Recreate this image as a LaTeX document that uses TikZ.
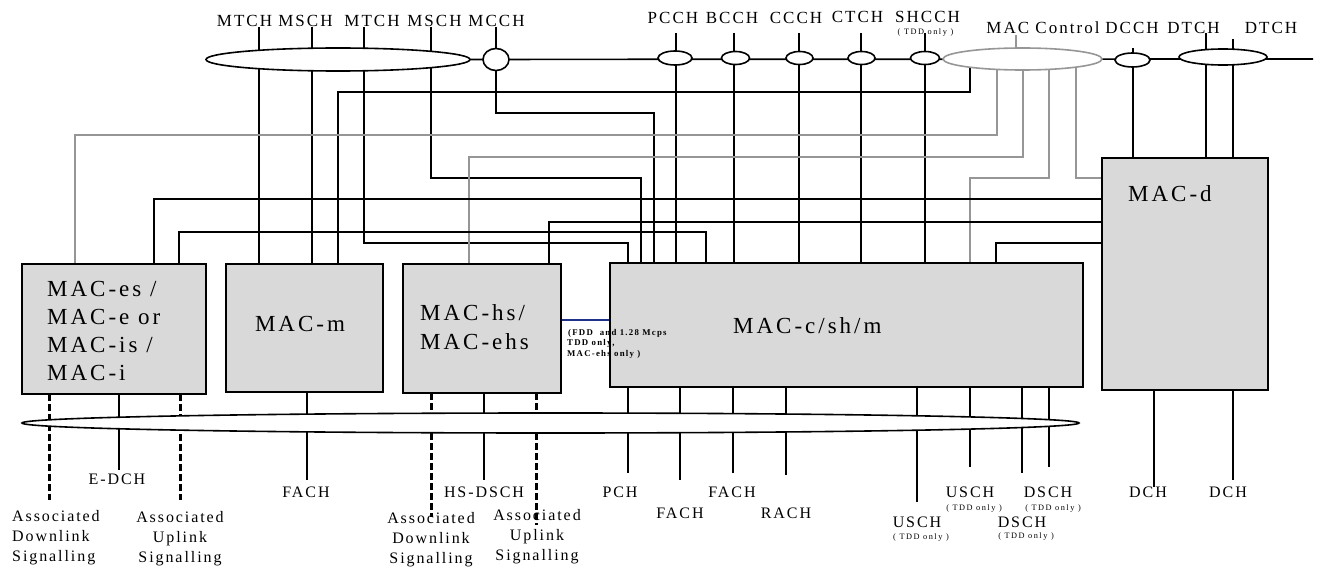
\documentclass[tikz,border=0pt]{standalone}
\usepackage{fontspec}
\setmainfont{Liberation Serif}
\newfontfamily\boxf[LetterSpace=13]{Liberation Serif}
\newfontfamily\chf[LetterSpace=12]{Liberation Serif}
\newfontfamily\blf[LetterSpace=12]{Liberation Serif}
\newfontfamily\smf[LetterSpace=18]{Liberation Serif}
\newfontfamily\bsmf[LetterSpace=14]{Liberation Serif}
\usetikzlibrary{shapes.geometric}
\pgfdeclarelayer{bg}
\pgfsetlayers{bg,main}
\definecolor{boxgray}{RGB}{217,217,217}
\definecolor{linegray}{RGB}{150,150,150}
\definecolor{navyline}{RGB}{30,50,140}
\begin{document}
\begin{tikzpicture}[x=1pt,y=-1pt,
  box/.style={draw=black, line width=1.8pt, fill=boxgray, inner sep=0pt, outer sep=0pt, anchor=north west},
  ell/.style={ellipse, draw=black, fill=white, line width=1.6pt, inner sep=0pt, outer sep=0pt},
  gell/.style={ellipse, draw=linegray, fill=white, line width=1.6pt, inner sep=0pt, outer sep=0pt},
  ln/.style={draw=black, line width=1.7pt},
  gln/.style={draw=linegray, line width=1.4pt},
  dln/.style={draw=black, line width=3pt, dash pattern=on 7pt off 3pt},
  bln/.style={draw=navyline, line width=1.3pt},
  boxlab/.style={font=\boxf\fontsize{23}{26}\selectfont, inner sep=0pt, anchor=base west},
  chlab/.style={font=\chf\fontsize{17}{18}\selectfont, inner sep=0pt, anchor=base},
  botlab/.style={font=\blf\fontsize{16}{18}\selectfont, inner sep=0pt, anchor=base},
  tdd/.style={font=\smf\fontsize{8.3}{9}\selectfont, inner sep=0pt, anchor=base},
  note/.style={font=\bsmf\bfseries\fontsize{8.8}{11}\selectfont, inner sep=0pt, anchor=base west}
]
\useasboundingbox (0,0) rectangle (1318,567);

% ---------- boxes ----------
\node[box, minimum width=184pt, minimum height=130pt] (maces) at (22,264) {};
\node[box, minimum width=157pt, minimum height=128pt] (macm) at (226,264) {};
\node[box, minimum width=158pt, minimum height=129pt] (machs) at (403,264) {};
\node[box, minimum width=473pt, minimum height=124pt] (macc) at (610,263) {};
\node[box, minimum width=166pt, minimum height=232pt] (macd) at (1102,158) {};

% box labels
\node[boxlab] (tEs1) at (47,296) {MAC-es /};
\node[boxlab] (tEs2) at (47,324) {MAC-e or};
\node[boxlab] (tEs3) at (47,352) {MAC-is /};
\node[boxlab] (tEs4) at (47,380) {MAC-i};
\node[boxlab, anchor=base] (tM) at (300,331) {MAC-m};
\node[boxlab] (tHs1) at (420,320) {MAC-hs/};
\node[boxlab] (tHs2) at (420,349) {MAC-ehs};
\node[boxlab] (tC) at (733,333) {MAC-c/sh/m};
\node[boxlab] (tD) at (1128,201) {MAC-d};

% note
\node[note] (n1) at (568,335) {(FDD\ \ and 1.28 Mcps};
\node[note] (n2) at (567,345.7) {TDD only,};
\node[note] (n3) at (567,356.7) {MAC-ehs only )};

% ---------- top ellipses ----------
\node[ell, minimum width=264pt, minimum height=23pt] (bigE) at (338,59.5) {};
\node[ell, minimum width=26pt, minimum height=22pt] (mcchE) at (496,59.5) {};
\node[ell, minimum width=34pt, minimum height=14pt] (pcchE) at (675,58) {};
\node[ell, minimum width=28pt, minimum height=13pt] (bcchE) at (735.5,58) {};
\node[ell, minimum width=27pt, minimum height=13pt] (ccchE) at (799.5,58) {};
\node[ell, minimum width=27pt, minimum height=13pt] (ctchE) at (861.5,58) {};
\node[ell, minimum width=29pt, minimum height=13pt] (shcchE) at (925,58) {};
\node[gell, minimum width=159pt, minimum height=22pt] (ctrlE) at (1022.5,59) {};
\node[ell, minimum width=35pt, minimum height=14pt] (dcchE) at (1132.5,60) {};
\node[ell, minimum width=88pt, minimum height=16pt] (dtchE) at (1223,57) {};

% bottom ellipse
\node[ell, minimum width=1057pt, minimum height=20pt] (botE) at (550.5,423) {};

% ---------- top labels ----------
\node[chlab] (lMTCHa) at (244.5,27) {MTCH};
\node[chlab] (lMSCHa) at (305.5,27) {MSCH};
\node[chlab] (lMTCHb) at (372,27) {MTCH};
\node[chlab] (lMSCHb) at (434.5,27) {MSCH};
\node[chlab] (lMCCH) at (496.5,27) {MCCH};
\node[chlab] (lPCCH) at (673,24) {PCCH};
\node[chlab] (lBCCH) at (732,24) {BCCH};
\node[chlab] (lCCCH) at (796,24) {CCCH};
\node[chlab] (lCTCH) at (857.5,23) {CTCH};
\node[chlab] (lSHCCH) at (927.5,23) {SHCCH};
\node[tdd] (lSHtdd) at (925.5,35) {( TDD only )};
\node[chlab] (lCtrl) at (1043,34) {MAC Control};
\node[chlab] (lDCCH) at (1132,34) {DCCH};
\node[chlab] (lDTCHa) at (1193.5,34) {DTCH};
\node[chlab] (lDTCHb) at (1271,34) {DTCH};

% ---------- bottom labels ----------
\node[botlab] (bEDCH) at (117,484) {E-DCH};
\node[botlab, anchor=base west] (bAD1) at (12,521) {Associated};
\node[botlab, anchor=base west] (bAD2) at (12,541) {Downlink};
\node[botlab, anchor=base west] (bAD3) at (12,561) {Signalling};
\node[botlab] (bAU1) at (180,522) {Associated};
\node[botlab] (bAU2) at (180,542) {Uplink};
\node[botlab] (bAU3) at (180,562) {Signalling};
\node[botlab] (bFACHm) at (306,497) {FACH};
\node[botlab] (bHS) at (484,497) {HS-DSCH};
\node[botlab] (bHD1) at (431,523) {Associated};
\node[botlab] (bHD2) at (431,543) {Downlink};
\node[botlab] (bHD3) at (431,563) {Signalling};
\node[botlab] (bHU1) at (537,520) {Associated};
\node[botlab] (bHU2) at (537,540) {Uplink};
\node[botlab] (bHU3) at (537,560) {Signalling};
\node[botlab] (bPCH) at (620,497) {PCH};
\node[botlab] (bFACHa) at (680,518) {FACH};
\node[botlab] (bFACHb) at (732,497) {FACH};
\node[botlab] (bRACH) at (786,518) {RACH};
\node[botlab] (bUSCHa) at (970,497) {USCH};
\node[tdd] (bUSCHat) at (974,510) {( TDD only )};
\node[botlab] (bDSCHa) at (1048,497) {DSCH};
\node[tdd] (bDSCHat) at (1053,510) {( TDD only )};
\node[botlab] (bUSCHb) at (917,527) {USCH};
\node[tdd] (bUSCHbt) at (921,539) {( TDD only )};
\node[botlab] (bDSCHb) at (1022,527) {DSCH};
\node[tdd] (bDSCHbt) at (1026,538) {( TDD only )};
\node[botlab] (bDCHa) at (1148,497) {DCH};
\node[botlab] (bDCHb) at (1228,497) {DCH};

% ---------- coordinates ----------
\coordinate (tMTCHa) at (259,27);
\coordinate (tMSCHa) at (312,27);
\coordinate (tMTCHb) at (364,27);
\coordinate (tMSCHb) at (431,27);
\coordinate (tMCCH) at (496,27);
\coordinate (tPCCH) at (676,33);
\coordinate (tBCCH) at (734,33);
\coordinate (tCCCH) at (799,33);
\coordinate (tCTCH) at (861,33);
\coordinate (tSHCCH) at (925,33);
\coordinate (tDCCH) at (1133,48);
\coordinate (tDTCHa) at (1206,33);
\coordinate (tDTCHb) at (1233,39);
\coordinate (tCtrl) at (1016,35);
\coordinate (busEnd) at (1313,59);
\coordinate (cK) at (970,60);
\coordinate (cG1) at (997,60);
\coordinate (cG2) at (1023,60);
\coordinate (cG3) at (1049,60);
\coordinate (cG4) at (1076,60);
\coordinate (jMTCHb) at (628,243);
\coordinate (jMSCHb) at (641,178);
\coordinate (jMCCH) at (654,113);
\coordinate (jK) at (338,92);
\coordinate (jG1) at (75,135);
\coordinate (jG2) at (469,157);
\coordinate (jG3) at (970,178);
\coordinate (jD1) at (154,199);
\coordinate (jD2) at (549,222);
\coordinate (jD3) at (996,243);
\coordinate (jE) at (706,232);

\begin{pgfonlayer}{bg}
% bus
\draw[ln] (bigE.center) -- (busEnd);
% straight channels
\draw[ln] (tMTCHa) -- (tMTCHa |- macm.north);
\draw[ln] (tMSCHa) -- (tMSCHa |- macm.north);
\draw[ln] (tPCCH) -- (tPCCH |- macc.north);
\draw[ln] (tBCCH) -- (tBCCH |- macc.north);
\draw[ln] (tCCCH) -- (tCCCH |- macc.north);
\draw[ln] (tCTCH) -- (tCTCH |- macc.north);
\draw[ln] (tSHCCH) -- (tSHCCH |- macc.north);
\draw[ln] (tDCCH) -- (tDCCH |- macd.north);
\draw[ln] (tDTCHa) -- (tDTCHa |- macd.north);
\draw[ln] (tDTCHb) -- (tDTCHb |- macd.north);
% routed channels
\draw[ln] (tMTCHb) |- (jMTCHb) -- (jMTCHb |- macc.north);
\draw[ln] (tMSCHb) |- (jMSCHb) -- (jMSCHb |- macc.north);
\draw[ln] (tMCCH) |- (jMCCH) -- (jMCCH |- macc.north);
% MAC control
\draw[gln] (tCtrl) -- (tCtrl |- ctrlE.center);
\draw[ln] (cK) |- (jK) -- (jK |- macm.north);
\draw[gln] (cG1) |- (jG1) -- (jG1 |- maces.north);
\draw[gln] (cG2) |- (jG2) -- (jG2 |- machs.north);
\draw[gln] (cG3) |- (jG3) -- (jG3 |- macc.north);
\draw[gln] (cG4) |- (macd.west |- jG3);
% MAC-d to others
\draw[ln] (macd.west |- jD1) -- (jD1) -- (jD1 |- maces.north);
\draw[ln] (macd.west |- jD2) -- (jD2) -- (jD2 |- machs.north);
\draw[ln] (macd.west |- jD3) -- (jD3) -- (jD3 |- macc.north);
% MAC-es to MAC-c
\coordinate (sE) at (179,232);
\draw[ln] (sE |- maces.north) -- (sE) -- (jE) -- (jE |- macc.north);
% blue link
\coordinate (bl) at (560,320);
\draw[bln] (machs.east |- bl) -- (macc.west |- bl);

% bottom lines
\coordinate (e1) at (49,500);
\coordinate (e2) at (119,470);
\coordinate (e3) at (180,500);
\coordinate (m1) at (307,480);
\coordinate (h1) at (431,517);
\coordinate (h2) at (484,480);
\coordinate (h3) at (536,525);
\coordinate (c1) at (628,473);
\coordinate (c2) at (680,480);
\coordinate (c3) at (733,473);
\coordinate (c4) at (786,475);
\coordinate (c5) at (917,502);
\coordinate (c6) at (970,467);
\coordinate (c7) at (1022,473);
\coordinate (c8) at (1049,467);
\coordinate (d1) at (1154,487);
\coordinate (d2) at (1233,480);
\draw[ln] (e2 |- maces.south) -- (e2);
\draw[ln] (m1 |- macm.south) -- (m1);
\draw[ln] (h2 |- machs.south) -- (h2);
\draw[ln] (c1 |- macc.south) -- (c1);
\draw[ln] (c2 |- macc.south) -- (c2);
\draw[ln] (c3 |- macc.south) -- (c3);
\draw[ln] (c4 |- macc.south) -- (c4);
\draw[ln] (c5 |- macc.south) -- (c5);
\draw[ln] (c6 |- macc.south) -- (c6);
\draw[ln] (c7 |- macc.south) -- (c7);
\draw[ln] (c8 |- macc.south) -- (c8);
\draw[ln] (d1 |- macd.south) -- (d1);
\draw[ln] (d2 |- macd.south) -- (d2);
% dashed signalling lines
\draw[dln] (e1 |- maces.south) -- (e1);
\draw[dln] (e3 |- maces.south) -- (e3);
\draw[dln] (h1 |- machs.south) -- (h1);
\draw[dln] (h3 |- machs.south) -- (h3);
\end{pgfonlayer}
\end{tikzpicture}
\end{document}
